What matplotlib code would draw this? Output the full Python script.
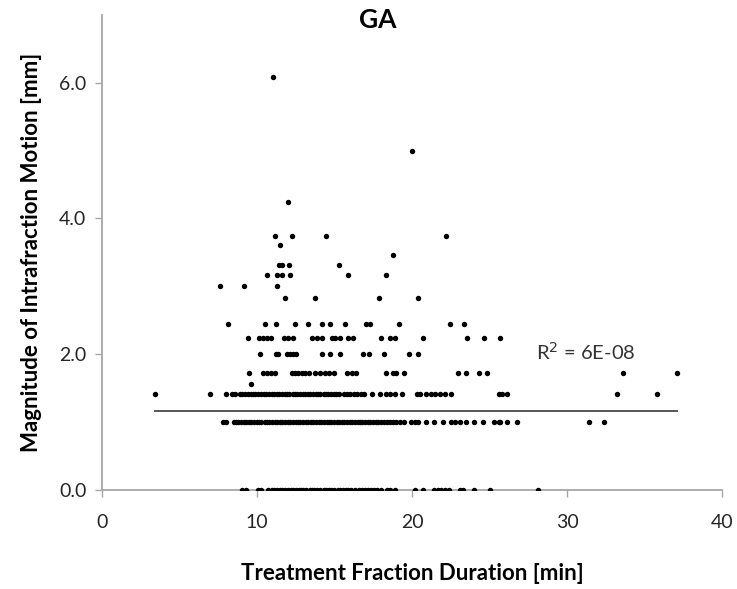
import numpy as np
import matplotlib
matplotlib.use("Agg")
import matplotlib.pyplot as plt

plt.rcParams['font.family'] = ['Lato', 'DejaVu Sans']

# treatment fraction duration [min] at each motion level [mm]
x_000 = [9.03, 9.3, 10.05, 10.25, 10.75, 10.95, 11.1, 11.3, 11.5, 11.65, 11.8, 12.0,
         12.2, 12.35, 12.5, 12.7, 12.85, 13.0, 13.2, 13.4, 13.55, 13.7, 13.9, 14.1,
         14.3, 14.45, 14.65, 14.8, 15.0, 15.2, 15.35, 15.55, 15.75, 15.9, 16.1, 16.3,
         16.6, 16.8, 17.0, 17.15, 17.35, 17.55, 17.75, 18.0, 18.4, 18.6, 18.9,
         20.2, 20.7, 21.4, 21.65, 21.9, 22.15, 22.4, 23.1, 23.3, 24.0, 25.0, 28.1]
x_100 = [7.8, 8.0, 8.5, 8.65, 8.8, 9.0, 9.15, 9.3, 9.5, 9.65, 9.8, 10.0, 10.15, 10.3,
         10.5, 10.65, 10.8, 11.0, 11.15, 11.3, 11.5, 11.65, 11.8, 12.0, 12.15, 12.3,
         12.5, 12.65, 12.8, 13.0, 13.15, 13.3, 13.5, 13.65, 13.8, 14.0, 14.15, 14.3,
         14.5, 14.65, 14.8, 15.0, 15.15, 15.3, 15.5, 15.65, 15.8, 16.0, 16.15, 16.3,
         16.5, 16.65, 16.8, 17.0, 17.15, 17.3, 17.5, 17.65, 17.8, 18.0, 18.2, 18.4,
         18.6, 18.8, 19.0, 19.25, 19.5, 19.95, 20.2, 20.4, 20.9, 21.45, 21.97, 22.5,
         22.8, 23.1, 23.45, 23.97, 24.6, 25.3, 25.6, 25.7, 26.1, 26.8, 31.4, 32.4]
x_141 = [3.44, 6.99, 8.0, 8.4, 8.6, 8.9, 9.05, 9.25, 9.4, 9.6, 9.75, 9.9, 10.1, 10.25,
         10.45, 10.6, 10.8, 10.95, 11.1, 11.3, 11.45, 11.6, 11.8, 11.95, 12.1, 12.3,
         12.45, 12.6, 12.8, 12.95, 13.1, 13.3, 13.45, 13.6, 13.8, 13.95, 14.1, 14.3,
         14.45, 14.6, 14.8, 14.95, 15.1, 15.3, 15.6, 15.8, 16.0, 16.25, 16.45, 16.7,
         16.9, 17.4, 17.95, 18.3, 18.6, 18.9, 19.35, 20.3, 20.5, 20.9, 21.2, 21.5,
         21.8, 22.15, 22.5, 25.6, 25.8, 26.1, 33.2, 35.8]
x_156 = [9.63]
x_173 = [9.52, 10.39, 10.65, 10.9, 11.18, 12.26, 12.47, 12.68, 12.9, 13.12, 13.33,
         13.76, 14.08, 14.4, 14.68, 15.0, 15.8, 16.13, 16.4, 18.34, 18.77, 18.99,
         19.5, 22.97, 23.48, 24.34, 24.84, 33.6, 37.1]
x_200 = [10.21, 11.25, 11.39, 11.94, 12.15, 12.36, 12.54, 14.19, 14.73, 15.37, 16.84,
         17.2, 18.17, 19.78, 20.4]
x_224 = [9.46, 10.15, 10.39, 10.65, 10.9, 11.76, 12.04, 12.36, 13.55, 13.87, 14.19,
         14.84, 15.05, 15.37, 15.9, 16.2, 18.02, 18.6, 18.92, 20.7, 23.55, 24.62, 25.7]
x_245 = [8.13, 10.54, 11.23, 12.47, 13.27, 14.23, 14.73, 15.7, 17.05, 17.27, 19.14,
         22.47, 23.33]
x_283 = [11.8, 13.72, 17.85, 20.36]
x_300 = [7.63, 9.14, 11.29]
x_316 = [10.68, 11.29, 11.61, 12.13, 15.85, 18.32]
x_332 = [11.42, 11.61, 12.08, 15.29]
x_346 = [18.8]
x_361 = [11.48]
x_374 = [11.18, 12.28, 14.45, 22.2]
x_424 = [12.02]
x_500 = [20.0]
x_608 = [11.03]

levels = [0.0, 1.0, 1.41, 1.56, 1.73, 2.0, 2.24, 2.45, 2.83, 3.0, 3.16, 3.32,
          3.46, 3.61, 3.74, 4.24, 5.0, 6.08]
groups = [x_000, x_100, x_141, x_156, x_173, x_200, x_224, x_245, x_283, x_300,
          x_316, x_332, x_346, x_361, x_374, x_424, x_500, x_608]

duration = np.concatenate([np.array(g, dtype=float) for g in groups])
motion = np.concatenate([np.full(len(g), lv) for g, lv in zip(groups, levels)])

# linear trendline as reported (R^2 ~ 0)
trend_x = [3.44, 37.1]
trend_y = [1.16, 1.16]

fig = plt.figure(figsize=(7.37, 5.89), dpi=100)
ax = fig.add_axes([0.138, 0.168, 0.842, 0.807])

ax.plot(trend_x, trend_y, color='#555555', lw=1.4, zorder=2)
ax.plot(duration, motion, 'o', color='black', ms=3.9, mew=0, zorder=3)

ax.set_xlim(0, 40)
ax.set_ylim(0, 7)
ax.set_xticks([0, 10, 20, 30, 40])
ax.set_yticks([0, 2, 4, 6])
ax.set_yticklabels(['0.0', '2.0', '4.0', '6.0'])

for s in ['top', 'right']:
    ax.spines[s].set_visible(False)
for s in ['left', 'bottom']:
    ax.spines[s].set_color('#a6a6a6')
    ax.spines[s].set_linewidth(1.3)
ax.tick_params(colors='#a6a6a6', labelcolor='#262626', labelsize=14,
               length=5, width=1.0, direction='out')
ax.tick_params(axis='x', pad=12)
ax.tick_params(axis='y', pad=6)

ax.set_xlabel('Treatment Fraction Duration [min]', fontsize=16,
              fontweight='bold', labelpad=23)
ax.set_ylabel('Magnitude of Intrafraction Motion [mm]', fontsize=16,
              fontweight='bold', labelpad=12)

fig.text(0.513, 0.966, 'GA', ha='center', va='center', fontsize=19,
         fontweight='bold')
ax.text(28.0, 2.04, 'R$^2$ = 6E-08', fontsize=14.5, color='#333333',
        va='center', ha='left')

fig.savefig('out.png', dpi=100)
